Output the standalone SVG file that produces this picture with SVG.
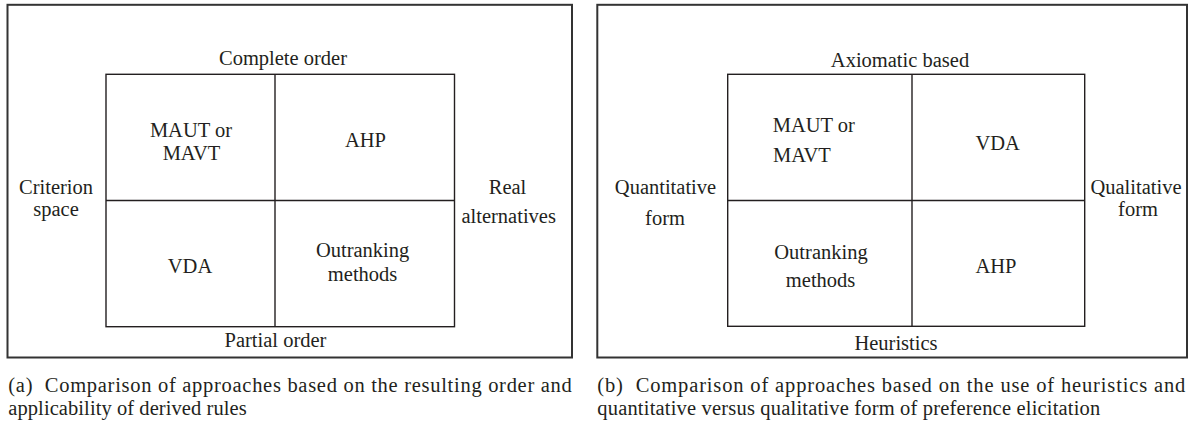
<svg xmlns="http://www.w3.org/2000/svg" width="1189" height="425" viewBox="0 0 1189 425" font-family="'Liberation Serif', 'DejaVu Serif', 'Times New Roman', serif">
<style>
text{font-family:'Liberation Serif','DejaVu Serif','Times New Roman',serif;font-size:20.5px;fill:#231f20}
.c{text-anchor:middle}
.frame{fill:none;stroke:#333;stroke-width:2}
.cell{fill:none;stroke:#231f20;stroke-width:1.4}
.cap{font-size:20.5px}
</style>
<rect width="1189" height="425" fill="#fff"/>
<g id="panel-a">
  <rect class="frame" x="7.5" y="4.8" width="564.5" height="352.7"/>
  <g id="a-grid">
    <rect class="cell" x="106" y="74.3" width="348.5" height="252.4"/>
    <line class="cell" x1="275" y1="74.3" x2="275" y2="326.7"/>
    <line class="cell" x1="106" y1="200.5" x2="454.5" y2="200.5"/>
  </g>
  <g id="a-top"><text class="c" x="283" y="65">Complete order</text></g>
  <g id="a-bottom"><text class="c" x="275.5" y="346.7">Partial order</text></g>
  <g id="a-left"><text class="c" x="56" y="194">Criterion</text><text class="c" x="56" y="215.5">space</text></g>
  <g id="a-right"><text class="c" x="507.5" y="194">Real</text><text class="c" x="508.7" y="222.5">alternatives</text></g>
  <g id="a-maut"><text class="c" x="191" y="137">MAUT or</text><text class="c" x="191.5" y="160">MAVT</text></g>
  <g id="a-ahp"><text class="c" x="365.5" y="147">AHP</text></g>
  <g id="a-vda"><text class="c" x="190" y="273">VDA</text></g>
  <g id="a-out"><text class="c" x="362.6" y="256.5">Outranking</text><text class="c" x="362.6" y="281">methods</text></g>
  <text class="cap" x="8.3" y="391.5" textLength="563.5" lengthAdjust="spacing" xml:space="preserve">(a)  Comparison of approaches based on the resulting order and</text>
  <text class="cap" x="8.3" y="415" textLength="238.4" lengthAdjust="spacing">applicability of derived rules</text>
</g>
<g id="panel-b">
  <rect class="frame" x="597.3" y="4.8" width="589.7" height="352.7"/>
  <g id="b-grid">
    <rect class="cell" x="727.7" y="74.3" width="357" height="252"/>
    <line class="cell" x1="912" y1="74.3" x2="912" y2="326.3"/>
    <line class="cell" x1="727.7" y1="200.5" x2="1084.7" y2="200.5"/>
  </g>
  <g id="b-top"><text class="c" x="900" y="67.3">Axiomatic based</text></g>
  <g id="b-bottom"><text class="c" x="896" y="350">Heuristics</text></g>
  <g id="b-left"><text class="c" x="665.5" y="193.5">Quantitative</text><text class="c" x="665" y="225">form</text></g>
  <g id="b-right"><text class="c" x="1136" y="193.5">Qualitative</text><text class="c" x="1138" y="216">form</text></g>
  <g id="b-maut"><text x="772.7" y="131.7">MAUT or</text><text x="773" y="161.7">MAVT</text></g>
  <g id="b-vda"><text class="c" x="997.6" y="150">VDA</text></g>
  <g id="b-out"><text class="c" x="821" y="259.3">Outranking</text><text class="c" x="820.6" y="286.7">methods</text></g>
  <g id="b-ahp"><text class="c" x="996" y="272.7">AHP</text></g>
  <text class="cap" x="597.3" y="391.5" textLength="588" lengthAdjust="spacing" xml:space="preserve">(b)  Comparison of approaches based on the use of heuristics and</text>
  <text class="cap" x="597.3" y="415" textLength="503" lengthAdjust="spacing">quantitative versus qualitative form of preference elicitation</text>
</g>
</svg>
